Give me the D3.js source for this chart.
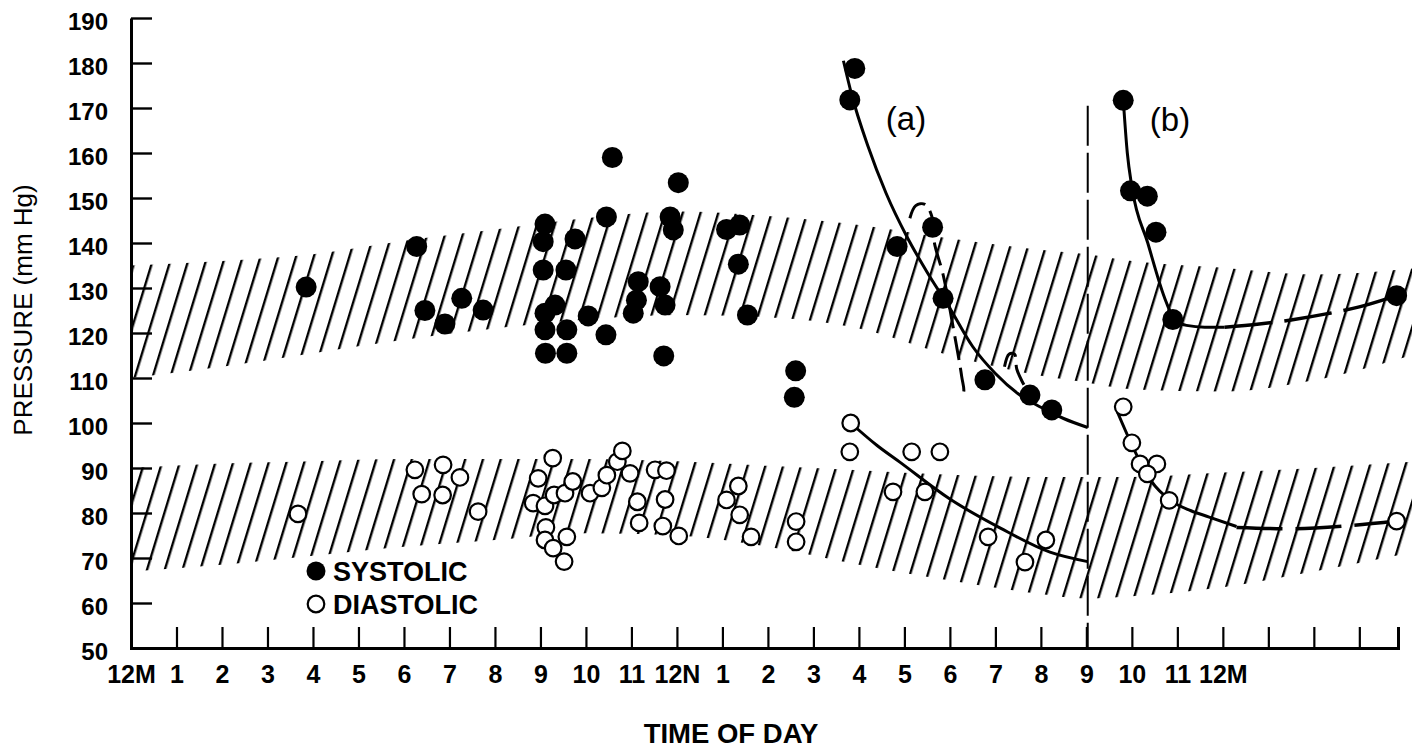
<!DOCTYPE html>
<html><head><meta charset="utf-8">
<script src="https://cdn.jsdelivr.net/npm/d3@7"></script>
<style>body{margin:0;background:#fff}svg{display:block}</style>
</head><body>
<svg id="c" width="1412" height="749"></svg>
<script>
// ---------- DATA ----------
const yTicks = [50,60,70,80,90,100,110,120,130,140,150,160,170,180,190];
const xTickHours = [0,1,2,3,4,5,6,7,8,9,10,11,12,13,14,15,16,17,18,19,20,21,22,23,24,25,26,27];
const xTickLabels = ["12M","1","2","3","4","5","6","7","8","9","10","11","12N","1","2","3","4","5","6","7","8","9","10","11","12M","","",""];

// normal-range bands (hour of day, mm Hg)
const bandHours = [0,2,4,6,8,10,12,14,16,18,20,21,22,24,26,28.3];
const sysUpper  = [135,136,137.5,140.5,143,145.5,147,146,144,141,138.5,137.5,136,134.5,133,134.5];
const sysLower  = [110,112.5,115.5,118.5,121,123,124,123.5,121,115,110.5,109,107.5,107,109.5,115.5];
const diaUpper  = [90,91,91.5,92,92,92,91.5,90.5,89.5,88.5,88,88,88,89,90,91.5];
const diaLower  = [67,68.5,70.5,72.5,74,75.5,75,72.5,68.5,65,62,61,61.5,63.5,67,71.5];

// systolic readings
const sysHours = [3.85,6.28,6.46,6.90,7.27,7.74,9.10,9.06,9.06,9.56,9.76,9.32,9.10,9.10,9.58,9.11,9.58,10.05,10.45,10.58,10.44,11.15,11.11,11.04,11.63,11.74,11.85,11.92,12.03,11.71,13.09,13.38,13.35,13.55,14.61,14.58,15.91,15.80,16.84,17.62,17.85,18.77,19.76,20.24,21.81,21.97,22.34,22.53,22.90,27.82];
const sysValues = [130.2,139.2,125,122,127.7,125.1,144.2,140.3,134,134,140.9,126.2,124.4,120.7,120.7,115.5,115.5,123.8,145.8,159,119.6,131.4,127.3,124.4,130.3,126.2,145.8,142.9,153.4,114.9,143,144,135.3,124,111.6,105.7,178.8,171.8,139.2,143.5,127.7,109.6,106.2,102.9,171.7,151.6,150.4,142.4,123,128.3];

// diastolic readings
const diaHours = [3.67,6.24,6.39,6.86,6.85,7.23,7.63,8.95,9.27,8.84,9.10,9.30,9.54,9.71,9.12,9.10,9.28,9.58,9.52,10.09,10.35,10.46,10.69,10.80,10.97,11.13,11.17,11.52,11.77,11.74,11.69,12.04,13.09,13.35,13.38,13.63,14.62,14.62,15.82,15.80,16.75,17.16,17.45,17.78,18.84,19.65,20.11,21.81,22.0,22.18,22.55,22.34,22.82,27.82];
const diaValues = [79.8,89.6,84.2,90.7,84,87.9,80.3,87.7,92.2,82.2,81.6,84,84.4,87,76.8,74,72.2,74.7,69.2,84.4,85.6,88.4,91.4,93.8,88.8,82.5,77.8,89.6,89.4,83,77.1,74.9,82.9,86,79.6,74.7,78.1,73.6,100,93.6,84.7,93.6,84.7,93.6,74.7,69.1,74,103.6,95.6,90.9,90.9,88.7,82.8,78.2];

// fitted curves (a) and (b)
const aSysCurveH = [15.66,15.84,16.2,16.6,17.05,17.5,18.0,18.5,19.0,19.5,20.0,20.5,21.03];
const aSysCurveV = [180.5,173,161.5,151,141.5,133.5,125.5,117,111,106.5,103.5,101,99];
const aDiaCurveH = [15.82,16.4,16.9,18.0,19.1,20.2,21.03];
const aDiaCurveV = [100,95,91.3,83.1,76.7,71.3,69.2];
const aAlt1H = [17.12,17.25,17.45,17.6,17.66,17.85,18.07,18.26,18.3,18.2];
const aAlt1V = [145.5,148.3,148.6,146,140,133,121.4,110.3,106.8,105.8];
const aAlt2H = [19.2,19.3,19.42,19.47,19.6,19.76];
const aAlt2V = [112.5,115.3,115.3,112,109,106.2];
const bSysCurveH = [21.81,21.9,22.0,22.35,22.75,22.95,23.2,23.6,24.04];
const bSysCurveV = [172,160,152.5,140,127,122.8,121.7,121.3,121.3];
const bSysDashH = [24.04,24.8,25.5,26.3,27.0,27.82];
const bSysDashV = [121.3,122,122.9,124.3,125.8,128.3];
const bDiaCurveH = [21.68,21.97,22.2,22.42,22.85,23.3,23.7,24.3];
const bDiaCurveV = [102.5,95.8,91,87.2,82.8,80.5,79.1,77];
const bDiaDashH = [24.3,25.5,26.8,27.82];
const bDiaDashV = [76.8,76.5,77.2,78.2];
const dividerHour = 21.03;
const dividerTop = 170.5;

// ---------- DRAW ----------
const FONT = "'Liberation Sans', Arial, Helvetica, sans-serif";
const svg = d3.select("#c");
const x = d3.scaleLinear().domain([0, 27.85]).range([131, 1398]);
const y = d3.scaleLinear().domain([50, 190]).range([648, 18]);

const defs = svg.append("defs");
const pat = defs.append("pattern").attr("id","hatch")
  .attr("patternUnits","userSpaceOnUse").attr("width",17).attr("height",20)
  .attr("patternTransform","rotate(17)");
pat.append("rect").attr("x",0).attr("y",0).attr("width",2.4).attr("height",20).attr("fill","#000");
defs.append("clipPath").attr("id","plotclip").append("rect")
  .attr("x",131).attr("y",0).attr("width",1412-131).attr("height",648);

const zip = (hs, vs) => hs.map((h,i)=>[h, vs[i]]);

const area = d3.area().x(d=>x(d[0])).y0(d=>y(d[1])).y1(d=>y(d[2])).curve(d3.curveMonotoneX);
const bands = svg.append("g").attr("clip-path","url(#plotclip)");
bands.append("path").datum(bandHours.map((h,i)=>[h, sysLower[i], sysUpper[i]]))
  .attr("d", area).attr("fill","url(#hatch)");
bands.append("path").datum(bandHours.map((h,i)=>[h, diaLower[i], diaUpper[i]]))
  .attr("d", area).attr("fill","url(#hatch)");

// axes
const yAxis = d3.axisLeft(y).tickValues(yTicks).tickSizeInner(-21).tickSizeOuter(0).tickPadding(23);
const gy = svg.append("g").attr("transform","translate(131,0)").call(yAxis);
gy.select(".domain").attr("stroke","#000").attr("stroke-width",3);
gy.selectAll(".tick line").attr("stroke","#000").attr("stroke-width",2.4);
gy.selectAll(".tick text").attr("font-family",FONT).attr("font-weight","bold")
  .attr("font-size",24).attr("fill","#000").attr("dy","0.46em");

const xAxis = d3.axisBottom(x).tickValues(xTickHours).tickSizeInner(-21).tickSizeOuter(-21)
  .tickPadding(17).tickFormat((d,i)=>xTickLabels[i]);
const gx = svg.append("g").attr("transform","translate(0,648)").call(xAxis);
gx.select(".domain").attr("stroke","#000").attr("stroke-width",3).attr("fill","none");
gx.selectAll(".tick line").attr("stroke","#000").attr("stroke-width",2.2);
gx.selectAll(".tick text").attr("font-family",FONT).attr("font-weight","bold")
  .attr("font-size",25).attr("fill","#000");

// axis titles
svg.append("text").attr("x",731).attr("y",743).attr("text-anchor","middle")
  .attr("font-family",FONT).attr("font-weight","bold").attr("font-size",27.5).text("TIME OF DAY");
svg.append("text").attr("transform","translate(32,310) rotate(-90)").attr("text-anchor","middle")
  .attr("font-family",FONT).attr("font-size",26).text("PRESSURE (mm Hg)");

// divider
svg.append("line").attr("x1",x(dividerHour)).attr("x2",x(dividerHour))
  .attr("y1",y(dividerTop)).attr("y2",y(50))
  .attr("stroke","#000").attr("stroke-width",2).attr("stroke-dasharray","40,7");

// curves
const lineM = d3.line().x(d=>x(d[0])).y(d=>y(d[1])).curve(d3.curveMonotoneX);
const lineC = d3.line().x(d=>x(d[0])).y(d=>y(d[1])).curve(d3.curveCatmullRom.alpha(0.5));
const curves = svg.append("g").attr("fill","none").attr("stroke","#000").attr("stroke-linecap","butt");
curves.append("path").attr("d", lineM(zip(aSysCurveH,aSysCurveV))).attr("stroke-width",3);
curves.append("path").attr("d", lineM(zip(aDiaCurveH,aDiaCurveV))).attr("stroke-width",3);
curves.append("path").attr("d", lineM(zip(bSysCurveH,bSysCurveV))).attr("stroke-width",3);
curves.append("path").attr("d", lineM(zip(bDiaCurveH,bDiaCurveV))).attr("stroke-width",3);
curves.append("path").attr("d", lineM(zip(bSysDashH,bSysDashV))).attr("stroke-width",3.5).attr("stroke-dasharray","48,12");
curves.append("path").attr("d", lineM(zip(bDiaDashH,bDiaDashV))).attr("stroke-width",3.5).attr("stroke-dasharray","46,13");
curves.append("path").attr("d", lineC(zip(aAlt1H,aAlt1V))).attr("stroke-width",3).attr("stroke-dasharray","24,8");
curves.append("path").attr("d", lineC(zip(aAlt2H,aAlt2V))).attr("stroke-width",3).attr("stroke-dasharray","22,8");

// points
svg.append("g").selectAll("circle").data(zip(diaHours,diaValues)).join("circle")
  .attr("cx",d=>x(d[0])).attr("cy",d=>y(d[1])).attr("r",8.3)
  .attr("fill","#fff").attr("stroke","#000").attr("stroke-width",2.2);
svg.append("g").selectAll("circle").data(zip(sysHours,sysValues)).join("circle")
  .attr("cx",d=>x(d[0])).attr("cy",d=>y(d[1])).attr("r",10.5).attr("fill","#000");

// annotations
svg.append("text").attr("x",906).attr("y",130).attr("text-anchor","middle")
  .attr("font-family",FONT).attr("font-size",33).text("(a)");
svg.append("text").attr("x",1170).attr("y",131).attr("text-anchor","middle")
  .attr("font-family",FONT).attr("font-size",33).text("(b)");

// legend
const leg = svg.append("g");
leg.append("circle").attr("cx",316).attr("cy",571).attr("r",9.5).attr("fill","#000");
leg.append("circle").attr("cx",316).attr("cy",604).attr("r",8.3).attr("fill","#fff").attr("stroke","#000").attr("stroke-width",2.2);
leg.append("text").attr("x",333).attr("y",581).attr("font-family",FONT).attr("font-weight","bold").attr("font-size",27).text("SYSTOLIC");
leg.append("text").attr("x",333).attr("y",614).attr("font-family",FONT).attr("font-weight","bold").attr("font-size",27).text("DIASTOLIC");
</script>
</body></html>
